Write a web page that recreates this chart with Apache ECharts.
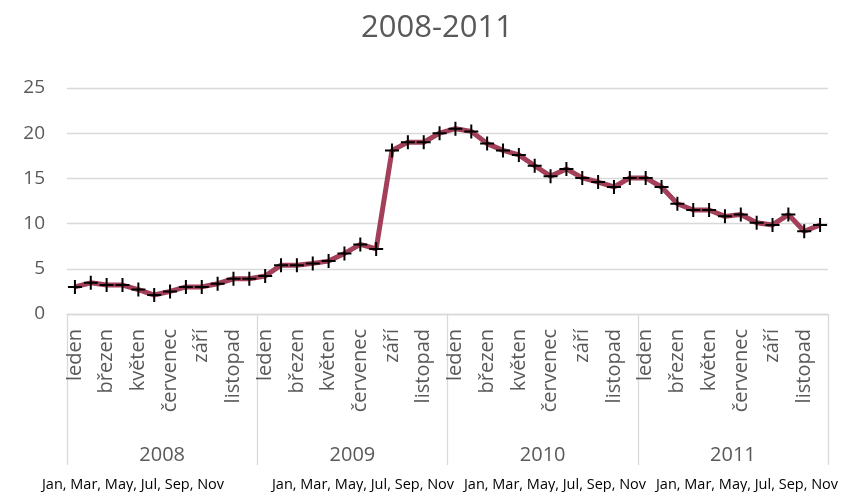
<!DOCTYPE html>
<html>
<head>
<meta charset="utf-8">
<script src="https://cdn.jsdelivr.net/npm/echarts@6/dist/echarts.min.js"></script>
<style>
html,body{margin:0;padding:0;background:#fff;}
#chart{width:845px;height:492px;}
</style>
</head>
<body>
<div id="chart"></div>
<script>
var titleText = '2008-2011';
var years = ['2008', '2009', '2010', '2011'];
var monthNames = ['leden', 'únor', 'březen', 'duben', 'květen', 'červen', 'červenec', 'srpen', 'září', 'říjen', 'listopad', 'prosinec'];
var v2008 = [3.0, 3.45, 3.2, 3.2, 2.7, 2.1, 2.5, 3.0, 3.0, 3.35, 3.9, 3.9];
var v2009 = [4.2, 5.4, 5.4, 5.6, 5.85, 6.7, 7.7, 7.2, 18.1, 19.0, 19.0, 20.0];
var v2010 = [20.5, 20.2, 18.85, 18.1, 17.6, 16.4, 15.25, 16.05, 15.05, 14.6, 14.05, 15.05];
var v2011 = [15.05, 14.05, 12.2, 11.5, 11.5, 10.8, 11.0, 10.1, 9.85, 11.0, 9.15, 9.85];
var footNotes = ['Jan, Mar, May, Jul, Sep, Nov', 'Jan, Mar, May, Jul, Sep, Nov', 'Jan, Mar, May, Jul, Sep, Nov', 'Jan, Mar, May, Jul, Sep, Nov'];
var yMin = 0, yMax = 25, yStep = 5;

var categories = [];
years.forEach(function (y) { monthNames.forEach(function (m) { categories.push(m); }); });
var values = [].concat(v2008, v2009, v2010, v2011);

var footX = [133, 363, 555, 747];
var graphics = footNotes.map(function (t, i) {
  return {
    type: 'text', x: footX[i], y: 485,
    style: { text: t, fill: '#000', font: '14.5px "Open Sans"', textAlign: 'center', textVerticalAlign: 'middle' }
  };
});

var chart = echarts.init(document.getElementById('chart'), null, { renderer: 'canvas' });
chart.setOption({
  backgroundColor: '#fff',
  animation: false,
  title: {
    text: titleText, left: 432, top: 8, textAlign: 'center',
    textStyle: { fontFamily: 'Open Sans', fontSize: 31, fontWeight: 'normal', color: '#595959' }
  },
  grid: { left: 67, right: 17, top: 88, bottom: 178, containLabel: false },
  xAxis: [{
    type: 'category', data: categories, boundaryGap: true, position: 'bottom',
    axisLine: { show: true, lineStyle: { color: '#d9d9d9', width: 1.3 } },
    axisTick: { show: false },
    axisLabel: { interval: 1, rotate: 90, margin: 15, color: '#595959', fontFamily: 'Open Sans', fontSize: 20 }
  }, {
    type: 'category', data: years, boundaryGap: true, position: 'bottom',
    axisLine: { show: false },
    axisTick: { show: true, interval: 0, length: 151, lineStyle: { color: '#d9d9d9', width: 1.3 } },
    axisLabel: { interval: 0, margin: 141, verticalAlign: 'middle', color: '#595959', fontFamily: 'Open Sans', fontSize: 20 }
  }],
  yAxis: {
    type: 'value', min: yMin, max: yMax, interval: yStep,
    axisLine: { show: false }, axisTick: { show: false },
    splitLine: { lineStyle: { color: '#d9d9d9', width: 1.3 } },
    axisLabel: { margin: 22, color: '#595959', fontFamily: 'Open Sans', fontSize: 19, padding: [6, 0, 0, 0] }
  },
  series: [{
    type: 'line', data: values, xAxisIndex: 0,
    lineStyle: { color: '#A33F58', width: 5 },
    itemStyle: { color: '#000' },
    symbol: 'path://M6,0h2v14h-2z M0,6h14v2h-14z',
    symbolSize: 14, showAllSymbol: true
  }],
  graphic: graphics
});
</script>
</body>
</html>
